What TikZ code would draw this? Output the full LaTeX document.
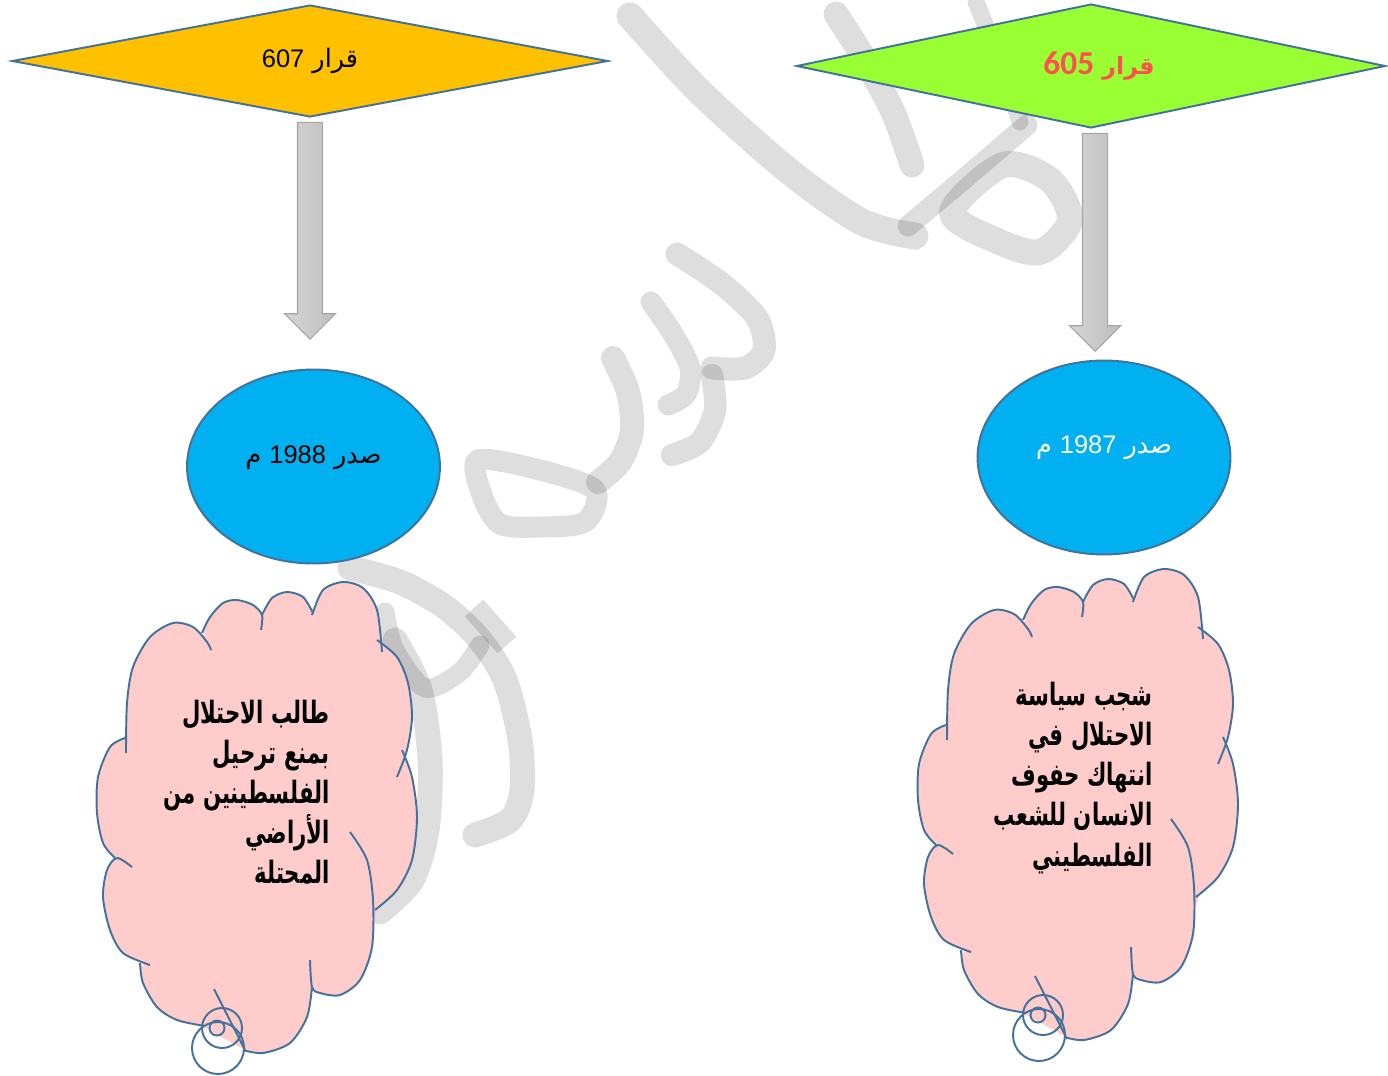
\documentclass[tikz,border=0pt]{standalone}
\usepackage{fontspec}
\setmainfont{Liberation Sans}
\newfontfamily\arabicfont[Script=Arabic]{DejaVu Sans}
\newfontfamily\arabiccond[Script=Arabic, FakeStretch=0.69]{DejaVu Sans}
\newfontfamily\calfont{Carlito}
\TeXXeTstate=1
\usetikzlibrary{shapes.geometric,shapes.arrows}

\definecolor{edgeblue}{HTML}{41719C}
\definecolor{goldfill}{HTML}{FFC000}
\definecolor{greenfill}{HTML}{99FF33}
\definecolor{skyfill}{HTML}{00B0F0}
\definecolor{pinkfill}{HTML}{FFCCCC}
\definecolor{redtext}{HTML}{FF5050}
\definecolor{arrtop}{HTML}{D6D6D6}
\definecolor{arrbot}{HTML}{BDBDBD}
\definecolor{arrline}{HTML}{A5A5A5}

\newcommand\rl[1]{\beginR#1\endR}
\newcommand\lr[1]{\beginL{\rmfamily #1}\endL{}}

% bumps of the cloud (left cloud, pixel units)
\def\bumpa{(126,753) (127,703) (133,667) (150,637) (173,623) (193,627) (207,642) (211,650)}
\def\bumpb{(202,633) (210,617) (223,603) (237,600) (253,605) (262,615) (261,630)}
\def\bumpc{(262,615) (272,598) (287,592) (303,597) (313,613)}
\def\bumpd{(312,615) (323,590) (343,582) (363,588) (377,610) (382,652)}
\def\bumpe{(377,640) (397,657) (408,683) (412,717) (407,750) (397,777)}
\def\bumpf{(402,750) (412,777) (417,817) (412,860) (397,890) (375,910)}
\def\bumpg{(350,832) (367,860) (373,900) (372,947) (360,980) (340,995) (320,993) (312,987) (310,960)}
\def\bumph{(312,987) (307,1017) (290,1043) (263,1053) (243,1050)}
\def\bumpi{(205,1026) (177,1020) (157,1007) (143,983) (140,963)}
\def\bumpj{(150,965) (123,953) (110,930) (103,897) (107,870) (117,858) (132,867)}
\def\bumpk{(115,858) (103,843) (97,813) (98,777) (110,747) (125,738)}

\newcommand\fillbump[1]{\expandafter\fillbumpx\expandafter{#1}}
\newcommand\fillbumpx[1]{\fill[pinkfill] plot[smooth] coordinates {#1} -- cycle;}
\newcommand\drawbump[1]{\expandafter\drawbumpx\expandafter{#1}}
\newcommand\drawbumpx[1]{\draw[cloudline] plot[smooth] coordinates {#1};}

\tikzset{
  rhomb/.style={diamond, draw=edgeblue, line width=1.1pt, inner sep=0pt, aspect=5},
  blob/.style={ellipse, draw=edgeblue, line width=1.1pt, fill=skyfill, inner sep=0pt,
    minimum width=5.06cm, minimum height=3.88cm},
  downarrow/.style={single arrow, rotate=-90, draw=arrline, line width=0.6pt,
    left color=arrtop, right color=arrbot, inner sep=0pt, inner ysep=0.24cm,
    minimum width=0pt, single arrow head extend=0.26cm, single arrow tip angle=90},
  artext/.style={inner sep=0pt, font=\arabicfont\fontsize{14.5}{17}\selectfont},
  cloudtext/.style={inner sep=0pt, anchor=east, align=right,
    font=\arabiccond\bfseries\fontsize{17.5}{22.8}\selectfont},
  cloudcore/.style={fill=pinkfill, draw=pinkfill, line width=1.8pt, line join=round},
  cloudline/.style={draw=edgeblue, line width=1.1pt},
  wmark/.style={draw=black, draw opacity=0.13, line cap=round, line join=round, line width=0.45cm},
  cloudcallout/.pic={
    \fillbump\bumpa \fillbump\bumpb \fillbump\bumpc \fillbump\bumpd
    \fillbump\bumpe \fillbump\bumpf \fillbump\bumpg \fillbump\bumph
    \fillbump\bumpi \fillbump\bumpj \fillbump\bumpk
    \filldraw[cloudcore] (125,738) -- (205,635) -- (262,615) -- (313,613) -- (378,640) -- (402,752)
      -- (378,905) -- (350,985) -- (312,987) -- (245,1048) -- (205,1026) -- (145,965) -- (115,858) -- cycle;
    \drawbump\bumpa \drawbump\bumpb \drawbump\bumpc \drawbump\bumpd
    \drawbump\bumpe \drawbump\bumpf \drawbump\bumpg \drawbump\bumph
    \drawbump\bumpi \drawbump\bumpj \drawbump\bumpk
    \draw[cloudline] (214,989) -- (245,1050);
    \draw[cloudline] (218,1048) circle (26);
    \draw[cloudline] (222,1028) circle (20);
    \draw[cloudline] (217,1028) circle (7.5);
  }
}

\begin{document}
\begin{tikzpicture}[x=0.02cm, y=-0.02cm]
\useasboundingbox (0,0) rectangle (1388,1075);

% watermark
\draw[wmark, line width=0.54cm] plot[smooth] coordinates {(630,16) (700,92) (790,172) (862,222) (915,236)};
\draw[wmark, line width=0.5cm] plot[smooth] coordinates {(836,14) (865,60) (893,112) (912,165)};
\draw[wmark, line width=0.34cm] plot[smooth] coordinates {(976,2) (1000,62) (1020,122)};
\draw[wmark, line width=0.42cm] plot[smooth] coordinates {(1027,125) (965,178) (908,226)};
\draw[wmark, line width=0.52cm] plot[smooth cycle] coordinates {(952,212) (1003,165) (1050,180) (1070,220) (1040,252) (995,240)};
\draw[wmark, line width=0.46cm] plot[smooth] coordinates {(677,254) (722,284) (757,318) (764,350) (745,368) (712,368)};
\draw[wmark, line width=0.42cm] plot[smooth] coordinates {(651,302) (673,334) (690,368) (686,394) (668,405)};
\draw[wmark] plot[smooth] coordinates {(712,375) (715,410) (700,442) (672,455)};
\draw[wmark, line width=0.48cm] plot[smooth] coordinates {(613,358) (628,392) (632,430) (620,462) (598,482)};
\draw[wmark, line width=0.42cm] plot[smooth cycle] coordinates {(478,460) (540,470) (595,490) (585,522) (540,527) (500,524) (482,495)};
\draw[wmark, line width=0.5cm] plot[smooth] coordinates {(350,568) (400,582) (445,607) (480,640) (505,680) (520,740) (522,790) (510,820) (475,835)};
\draw[wmark, line width=0.38cm] plot[smooth] coordinates {(385,612) (395,650) (425,688) (460,672) (480,645)};
\draw[wmark, line width=0.5cm, line cap=butt] (474,608) -- (507,645);
\draw[wmark, line width=0.5cm] plot[smooth] coordinates {(395,640) (420,690) (430,760) (427,830) (412,880) (380,912)};

% decisions
\node[rhomb, fill=goldfill, minimum width=11.92cm, minimum height=2.24cm,
  font=\arabicfont\fontsize{14.5}{17}\selectfont] (d1) at (310,61) {\rl{قرار \lr{607}}};
\node[rhomb, fill=greenfill, minimum width=11.78cm, minimum height=2.48cm] (d2) at (1091,66) {};
\node[inner sep=0pt, text=redtext, font=\arabicfont\bfseries\fontsize{13.5}{19}\selectfont] (x2) at (1099,66)
  {\rl{قرار \beginL{\calfont\fontsize{19}{19}\selectfont 605}\endL{}}};

\node[downarrow, minimum height=4.34cm] (a1) at (310,224.5) {};
\node[downarrow, minimum height=4.36cm] (a2) at (1095,236) {};

\node[blob] (e1) at (313.5,466.5) {};
\node[blob] (e2) at (1104,457.5) {};
\node[artext] (y1) at ([yshift=0.18cm]e1.center) {\rl{صدر \lr{1988} م}};
\node[artext, text=white] (y2) at ([yshift=0.2cm]e2.center) {\rl{صدر \lr{1987} م}};

% callouts
\pic at (0,0) {cloudcallout};
\pic at (821,-13) {cloudcallout};

\node[cloudtext] (n1) at (330,792) {\rl{طالب الاحتلال}\\ \rl{بمنع ترحيل}\\ \rl{الفلسطينين من}\\ \rl{الأراضي}\\ \rl{المحتلة}};
\node[cloudtext] (n2) at (1153,778) {\rl{شجب سياسة}\\ \rl{الاحتلال في}\\ \rl{انتهاك حفوف}\\ \rl{الانسان للشعب}\\ \rl{الفلسطيني}};
\end{tikzpicture}
\end{document}
